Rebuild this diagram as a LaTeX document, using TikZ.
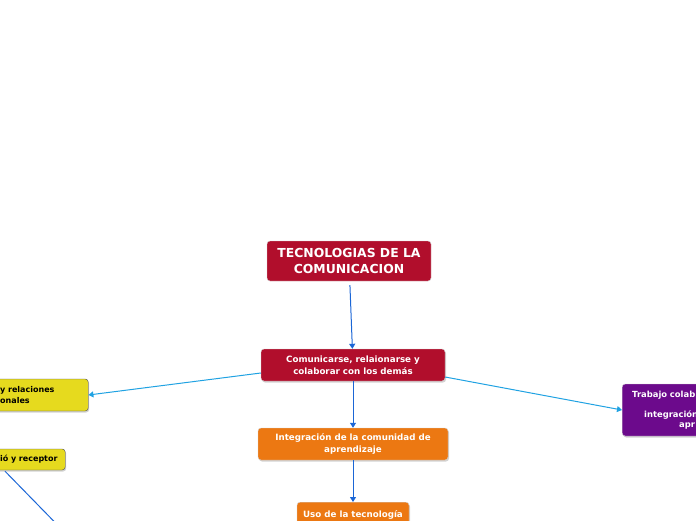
\documentclass[tikz,border=0pt]{standalone}
\usepackage{fontspec}
\setmainfont{DejaVu Sans}
\usetikzlibrary{arrows.meta,shadows}

\definecolor{crimson}{HTML}{B10E2C}
\definecolor{naranja}{HTML}{EC7812}
\definecolor{amarillo}{HTML}{E6DA1E}
\definecolor{morado}{HTML}{6C0A8C}
\definecolor{azul}{HTML}{1B66D6}
\definecolor{celeste}{HTML}{20A2E2}

\begin{document}
\begin{tikzpicture}
[
	x=1pt, y=-1pt,
	topic/.style={rectangle,rounded corners=3pt,inner sep=4pt,align=center,
		font=\bfseries\fontsize{8.7}{11.5}\selectfont,
		drop shadow={shadow xshift=1pt,shadow yshift=-1.5pt,opacity=.35}},
	redbox/.style={topic,fill=crimson,draw=gray!35,text=white},
	orangebox/.style={topic,fill=naranja,draw=gray!35,text=white},
	yellowbox/.style={topic,fill=amarillo,draw=black!70,text=black,align=left,
		font=\bfseries\fontsize{8}{10.5}\selectfont},
	purplebox/.style={topic,fill=morado,draw=gray!35,text=white,align=left,
		font=\bfseries\fontsize{8.4}{10}\selectfont},
	link/.style={azul,line width=1pt,-{Triangle[length=5pt,width=6pt]}},
	sidelink/.style={celeste,line width=1pt,-{Triangle[length=5pt,width=6pt]}}
]

	\useasboundingbox (0,0) rectangle (696,520);
	\clip (0,0) rectangle (696,520);

	% central topic
	\node[rectangle,rounded corners=3pt,fill=crimson,draw=gray!35,text=white,align=center,
		minimum width=164pt,minimum height=40pt,
		font=\bfseries\fontsize{12.4}{16}\selectfont] (root) at (349,261)
		{TECNOLOGIAS DE LA\\COMUNICACION};

	% main branch
	\node[redbox,minimum width=184pt,minimum height=32pt] (comm) at (353,365)
		{Comunicarse, relaionarse y\\colaborar con los demás};
	\node[orangebox,minimum width=190pt,minimum height=32pt] (integ) at (353,444)
		{Integración de la comunidad de\\aprendizaje};
	\node[orangebox,minimum width=112pt,minimum height=26pt,anchor=north] (uso) at (353,502)
		{Uso de la tecnología};

	% side topics
	\node[yellowbox,anchor=west,text width=84pt,minimum height=32pt] (rel) at (-4,395)
		{y relaciones\\onales};
	\node[yellowbox,anchor=west,text width=61pt,minimum height=21pt] (emisor) at (-4,459.5)
		{ió y receptor};
	\node[purplebox,anchor=west,text width=120pt,minimum height=52pt,inner xsep=10pt] (trabajo) at (622,410)
		{Trabajo colab\\ \mbox{}\\ \hspace*{12pt}integración\\ \hspace*{47pt}apr};

	\coordinate (fuera) at (80,548);

	% connectors
	\draw[link,shorten <=4pt] (root) -- (comm);
	\draw[link] (comm) -- (integ);
	\draw[link] (integ) -- (uso);
	\draw[sidelink] (comm.west) ++(0,8) -- (rel.east);
	\draw[sidelink] (comm.east) ++(0,12) -- (trabajo.west);
	\draw[azul,line width=1pt] (emisor.south west) ++(9,1) -- (fuera);

\end{tikzpicture}
\end{document}
